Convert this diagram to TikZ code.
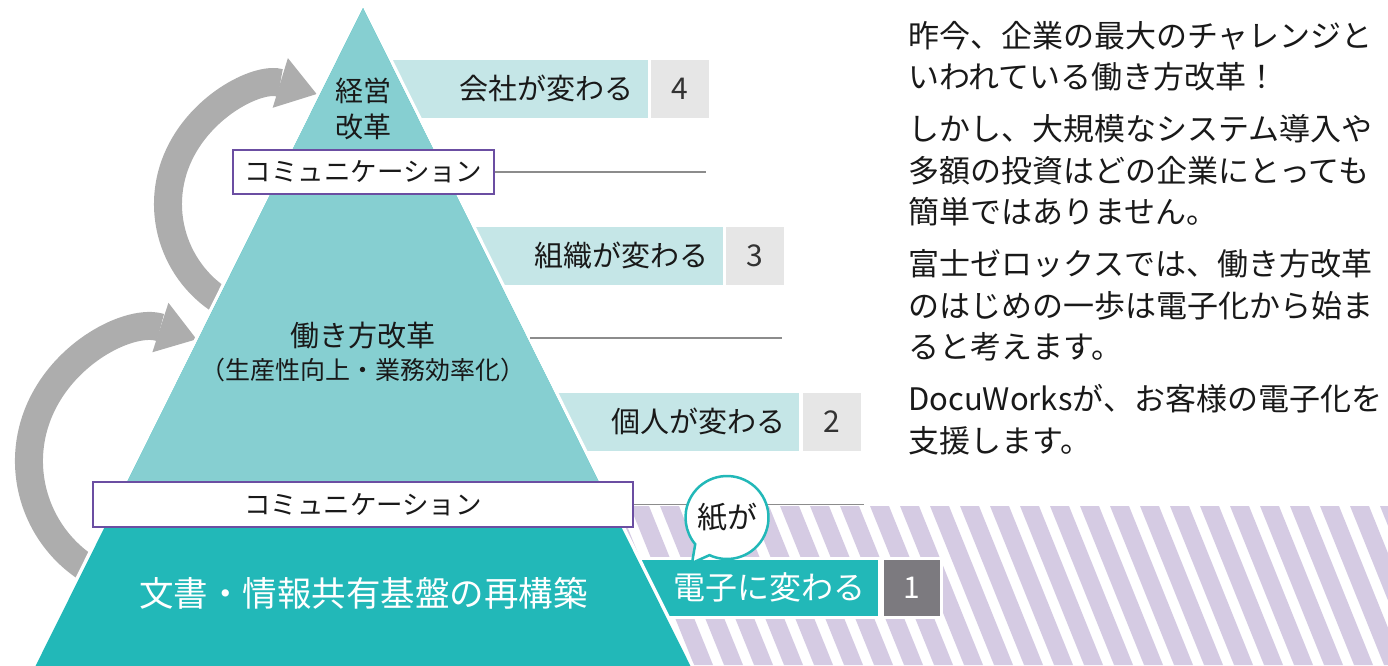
\documentclass[tikz,border=0pt]{standalone}
\usepackage{fontspec}
\setmainfont{Noto Sans CJK JP}
\usetikzlibrary{arrows.meta, positioning, calc}

\definecolor{pyrlight}{HTML}{86CFD1}
\definecolor{pyrdark}{HTML}{22B8B8}
\definecolor{barlight}{HTML}{C5E6E7}
\definecolor{numlight}{HTML}{E6E6E6}
\definecolor{numdark}{HTML}{7C7A7F}
\definecolor{commpurple}{HTML}{6B4EA2}
\definecolor{stripe}{HTML}{D5CBE3}
\definecolor{loopgray}{HTML}{ADADAD}
\definecolor{leadgray}{HTML}{8C8C8C}

\begin{document}
\begin{tikzpicture}[
			x=1pt, y=-1pt,
			every node/.style={inner sep=0pt, text=black!90},
			numbox/.style={rectangle, fill=numlight, minimum width=58pt, minimum height=58pt, text=black!80, font=\fontsize{30}{30}\selectfont},
			barbox/.style={rectangle, fill=barlight, minimum height=58pt, inner xsep=14pt, text width=#1, align=right, font=\fontsize{29}{29}\selectfont},
			commbox/.style={rectangle, draw=commpurple, line width=2pt, fill=white, minimum height=44pt, font=\fontsize{26.5}{26.5}\selectfont},
			leaderline/.style={draw=leadgray, line width=1.5pt},
			cyclearrow/.style={draw=loopgray, line width=28pt, -{Triangle[length=38pt, width=52pt, line width=0pt]}},
			bubble/.style={fill=white, draw=pyrdark, line width=2.5pt},
			whiteedge/.style={draw=white, line width=3pt}
			]

			\useasboundingbox (0,0) rectangle (1388,665);

			\begin{scope}
				\clip (600,506) rectangle (1388,665);
				\foreach \k in {0,...,30}
					\fill[stripe] (540+30*\k,506) -- ++(19,0) -- ++(64,159) -- ++(-19,0) -- cycle;
			\end{scope}

			\node[numbox] (n4) at (680,88.5) {4};
			\node[barbox=257pt, left=3pt of n4] (b4) {会社が変わる};
			\node[numbox] (n3) at (755,255.5) {3};
			\node[barbox=332pt, left=3pt of n3] (b3) {組織が変わる};
			\node[numbox] (n2) at (831.5,421.5) {2};
			\node[barbox=409pt, left=3pt of n2] (b2) {個人が変わる};
			\node[numbox, whiteedge, fill=numdark, text=white, minimum height=59pt, minimum width=59pt] (n1) at (911.5,587.5) {1};
			\node[barbox=488pt, whiteedge, left=0pt of n1, fill=pyrdark, text=white, minimum height=59pt, font=\fontsize{32}{32}\selectfont] (b1) {電子に変わる};

			\coordinate (loopupper) at (283,204);
			\coordinate (looplower) at (157,461);
			\draw[cyclearrow] ($(looplower)+(250:128pt)$) arc[start angle=250, end angle=72, radius=128pt];
			\draw[cyclearrow] ($(loopupper)+(250:115pt)$) arc[start angle=250, end angle=73, radius=115pt];

			\coordinate (apex) at (363,8);
			\coordinate (baseL) at (18.6,700);
			\coordinate (baseR) at (707.4,700);
			\coordinate (midL) at (115.6,505);
			\coordinate (midR) at (610.4,505);
			\draw[white, line width=7pt] (apex) -- (baseL) -- (baseR) -- cycle;
			\fill[pyrdark] (apex) -- (baseL) -- (baseR) -- cycle;
			\fill[pyrlight] (apex) -- (midL) -- (midR) -- cycle;

			\node[commbox, minimum width=261pt] (comm1) at (363.5,172) {コミュニケーション};
			\node[commbox, minimum width=540pt, minimum height=45pt] (comm2) at (363,504.5) {コミュニケーション};

			\coordinate (lead1) at (706,172);
			\coordinate (edge2) at (530,338);
			\coordinate (lead2) at (782,338);
			\coordinate (lead3) at (864,504.5);
			\draw[leaderline] (comm1) -- (lead1);
			\draw[leaderline] (edge2) -- (lead2);
			\draw[leaderline] (comm2) -- (lead3);

			\node[align=center, font=\fontsize{28}{36.5}\selectfont] (mgmt) at (363,109) {経営\\改革};
			\node[font=\fontsize{29}{29}\selectfont] (work) at (363,335) {働き方改革};
			\node[font=\fontsize{25}{25}\selectfont] (workdetail) at (363,370) {（生産性向上・業務効率化）};
			\node[font=\fontsize{34.5}{34.5}\selectfont, text=white] (infra) at (363.5,593) {文書・情報共有基盤の再構築};

			\coordinate (papercentre) at (727,517.5);
			\coordinate (papertip) at (692,563);
			\filldraw[bubble] (papertip) -- ($(papercentre)+(245:41.5pt)$) arc[start angle=245, end angle=580, radius=41.5pt] -- cycle;
			\node[font=\fontsize{30}{30}\selectfont] (paper) at (papercentre) {紙が};

			\node[anchor=north west, align=left, font=\fontsize{31}{41.3}\selectfont] (intro) at (908,21) {昨今、企業の最大のチャレンジと\\いわれている働き方改革！\\[11pt]しかし、大規模なシステム導入や\\多額の投資はどの企業にとっても\\簡単ではありません。\\[11pt]富士ゼロックスでは、働き方改革\\のはじめの一歩は電子化から始ま\\ると考えます。\\[11pt]DocuWorksが、お客様の電子化を\\支援します。};

		\end{tikzpicture}
\end{document}
